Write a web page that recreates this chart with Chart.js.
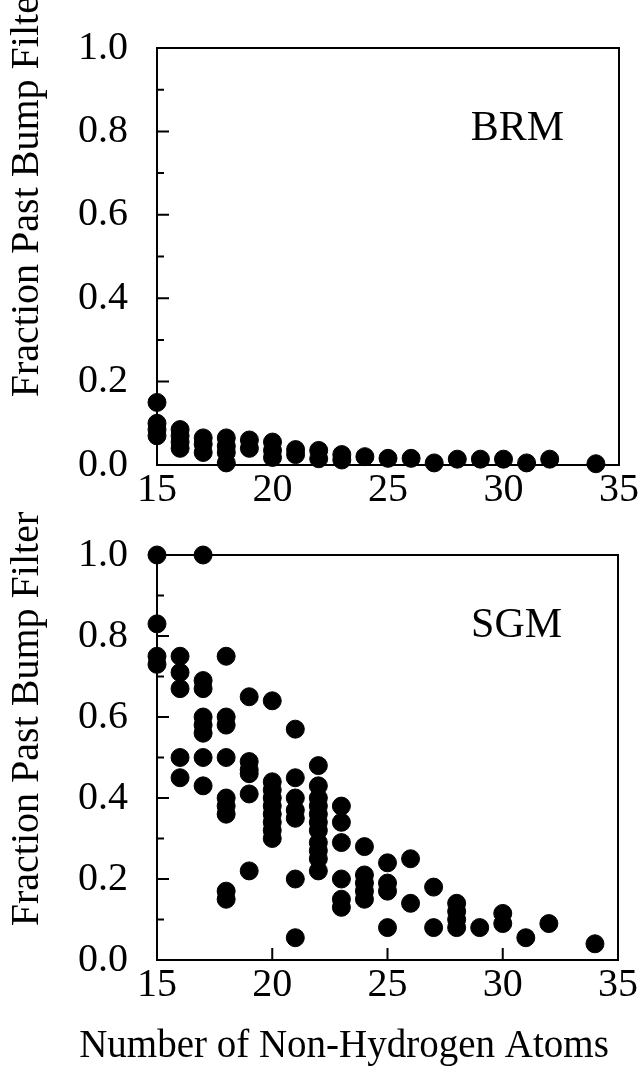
<!DOCTYPE html>
<html>
<head>
<meta charset="utf-8">
<script src="https://cdn.jsdelivr.net/npm/chart.js@4.4.0/dist/chart.umd.min.js"></script>
<style>
html, body { margin: 0; padding: 0; background: #fff; }
canvas { display: block; }
</style>
</head>
<body>
<canvas id="brm" width="640" height="510"></canvas>
<canvas id="sgm" width="640" height="559"></canvas>
<script>
// Datos
var brmX = [15, 15, 15, 15, 16, 16, 16, 16, 17, 17, 17, 18, 18, 18, 18, 19, 19, 20, 20, 20,
            21, 21, 22, 22, 23, 23, 24, 25, 26, 27, 28, 29, 30, 31, 32, 34];
var brmY = [0.15, 0.10, 0.085, 0.07, 0.085, 0.07, 0.055, 0.04, 0.065, 0.05, 0.03,
            0.065, 0.045, 0.03, 0.005, 0.06, 0.04, 0.055, 0.035, 0.018,
            0.037, 0.025, 0.035, 0.015, 0.025, 0.012, 0.02, 0.016, 0.016, 0.005,
            0.014, 0.014, 0.014, 0.005, 0.014, 0.003];

var sgmX = [15, 15, 15, 15,
            16, 16, 16, 16, 16,
            17, 17, 17, 17, 17, 17, 17, 17,
            18, 18, 18, 18, 18, 18, 18, 18, 18,
            19, 19, 19, 19, 19, 19,
            20, 20, 20, 20, 20, 20, 20, 20, 20,
            21, 21, 21, 21, 21, 21, 21,
            22, 22, 22, 22, 22, 22, 22, 22, 22, 22, 22,
            23, 23, 23, 23, 23, 23,
            24, 24, 24, 24, 24,
            25, 25, 25, 25,
            26, 26, 27, 27,
            28, 28, 28, 28,
            29, 30, 30, 31, 32, 34];
var sgmY = [1.0, 0.83, 0.75, 0.73,
            0.75, 0.71, 0.67, 0.50, 0.45,
            1.0, 0.69, 0.67, 0.60, 0.58, 0.56, 0.50, 0.43,
            0.75, 0.60, 0.58, 0.50, 0.40, 0.38, 0.36, 0.17, 0.15,
            0.65, 0.49, 0.47, 0.46, 0.41, 0.22,
            0.64, 0.44, 0.42, 0.40, 0.38, 0.36, 0.34, 0.32, 0.30,
            0.57, 0.45, 0.40, 0.37, 0.35, 0.20, 0.055,
            0.48, 0.43, 0.40, 0.38, 0.36, 0.34, 0.32, 0.29, 0.27, 0.25, 0.22,
            0.38, 0.34, 0.29, 0.20, 0.15, 0.13,
            0.28, 0.21, 0.19, 0.17, 0.15,
            0.24, 0.19, 0.17, 0.08,
            0.25, 0.14, 0.18, 0.08,
            0.14, 0.12, 0.10, 0.08,
            0.08, 0.115, 0.09, 0.055, 0.09, 0.04];

var xMayores = [20, 25, 30];
var yMarcas = [0.1, 0.2, 0.3, 0.4, 0.5, 0.6, 0.7, 0.8, 0.9];

var tituloY = "Fraction Past Bump Filter";
var tituloX = "Number of Non-Hydrogen Atoms";
var serif = '"Liberation Serif", "DejaVu Serif", serif';

Chart.defaults.font.family = serif;
Chart.defaults.color = "#000";

function puntos(xs, ys) {
    return xs.map(function(x, i) { return { x: x, y: ys[i] }; });
}

// Marco, marcas hacia dentro y textos
var marco = {
    id: "marco",
    afterDraw: function(chart, args, opts) {
        var ctx = chart.ctx, a = chart.chartArea;
        var sx = chart.scales.x, sy = chart.scales.y;
        ctx.save();
        ctx.strokeStyle = "#000";
        ctx.lineWidth = 2;
        ctx.strokeRect(a.left, a.top, a.right - a.left, a.bottom - a.top);
        ctx.beginPath();
        yMarcas.forEach(function(v) {
            var py = sy.getPixelForValue(v);
            var largo = (Math.round(v * 10) % 2 === 0) ? 12 : 7;
            ctx.moveTo(a.left, py);
            ctx.lineTo(a.left + largo, py);
        });
        xMayores.forEach(function(v) {
            var px = sx.getPixelForValue(v);
            ctx.moveTo(px, a.bottom);
            ctx.lineTo(px, a.bottom - 12);
        });
        ctx.stroke();

        ctx.fillStyle = "#000";
        ctx.textAlign = "center";
        ctx.textBaseline = "middle";
        ctx.font = "42px " + serif;
        ctx.fillText(opts.etiqueta, sx.getPixelForValue(opts.etiquetaX), sy.getPixelForValue(opts.etiquetaY));

        ctx.save();
        ctx.translate(27, opts.tituloYpos);
        ctx.rotate(-Math.PI / 2);
        ctx.font = "40px " + serif;
        ctx.fillText(tituloY, 0, 0);
        ctx.restore();

        if (opts.conTituloX) {
            ctx.font = "39px " + serif;
            ctx.fillText(tituloX, 344, chart.height - 22);
        }
        ctx.restore();
    }
};

function opciones(altoX, arriba, derecha, extra) {
    return {
        responsive: false,
        animation: false,
        devicePixelRatio: 1,
        layout: { padding: { top: arriba, right: derecha, left: 0, bottom: 0 } },
        plugins: {
            legend: { display: false },
            tooltip: { enabled: false },
            marco: extra
        },
        scales: {
            x: {
                type: "linear",
                min: 15,
                max: 35,
                grid: { display: false },
                border: { display: false },
                ticks: { stepSize: 5, padding: -7, font: { size: 40 } },
                afterFit: function(s) { s.height = altoX; }
            },
            y: {
                min: 0,
                max: 1,
                grid: { display: false },
                border: { display: false },
                ticks: {
                    stepSize: 0.2,
                    padding: 21,
                    font: { size: 40 },
                    callback: function(v) { return Number(v).toFixed(1); }
                },
                afterFit: function(s) { s.width = 157; }
            }
        }
    };
}

function serie(datos) {
    return {
        data: datos,
        backgroundColor: "#000",
        borderColor: "#000",
        pointRadius: 9,
        pointHoverRadius: 9,
        clip: false
    };
}

var brm = new Chart(document.querySelector("#brm"), {
    type: "scatter",
    data: { datasets: [serie(puntos(brmX, brmY))] },
    options: opciones(43, 48, 21, { etiqueta: "BRM", etiquetaX: 30.6, etiquetaY: 0.805, tituloYpos: 190, conTituloX: false }),
    plugins: [marco]
});

var sgm = new Chart(document.querySelector("#sgm"), {
    type: "scatter",
    data: { datasets: [serie(puntos(sgmX, sgmY))] },
    options: opciones(109, 33, 22, { etiqueta: "SGM", etiquetaX: 30.6, etiquetaY: 0.825, tituloYpos: 209, conTituloX: true }),
    plugins: [marco]
});
</script>
</body>
</html>
